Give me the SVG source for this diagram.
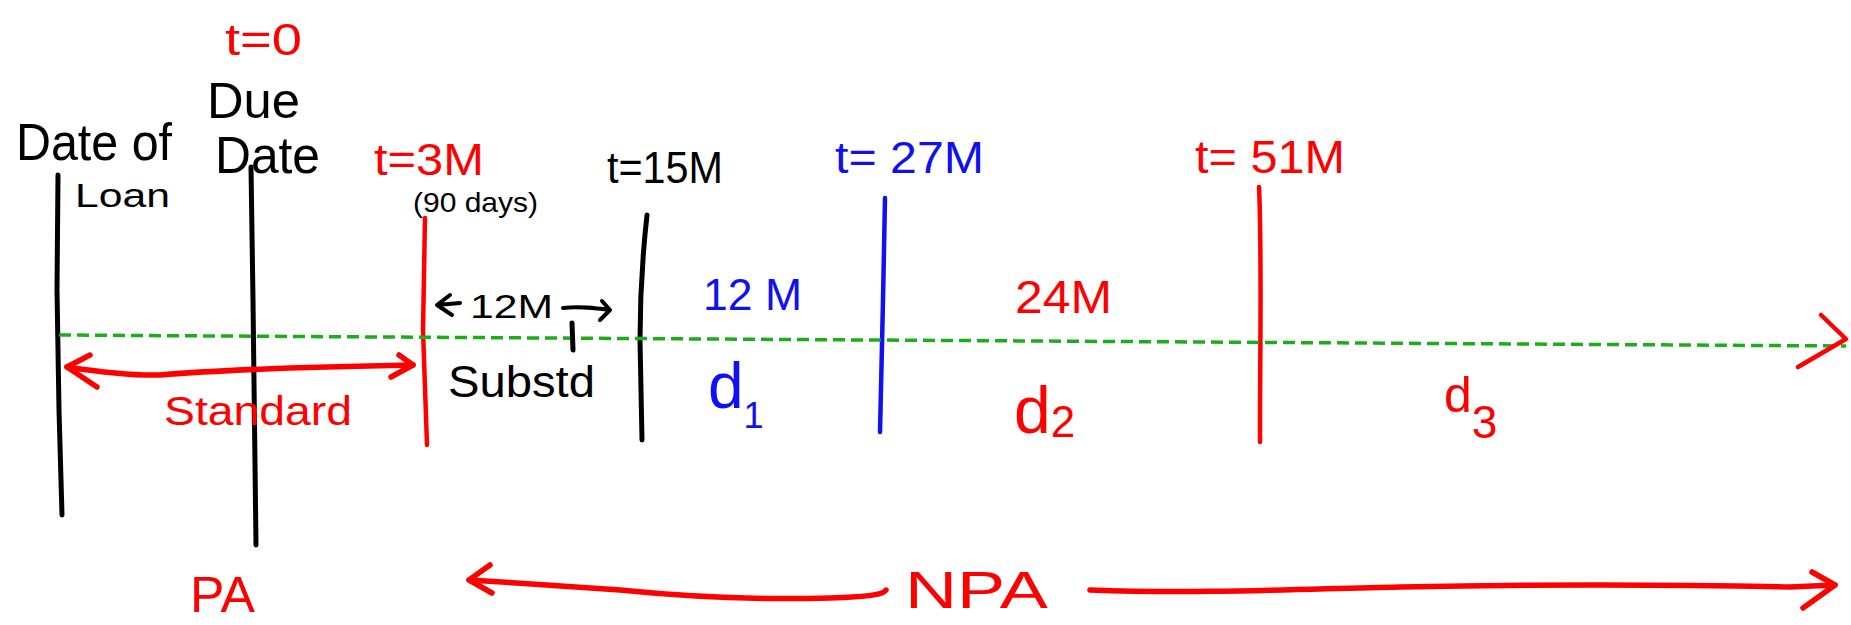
<svg xmlns="http://www.w3.org/2000/svg" width="1851" height="625" viewBox="0 0 1851 625">
<style>
text{font-family:"Liberation Sans","DejaVu Sans",sans-serif;}
.k{fill:#000}.r{fill:#ff0000}.b{fill:#1010f0}
.lk{fill:none;stroke:#000;stroke-width:5;stroke-linecap:round;stroke-linejoin:round}
.lr{fill:none;stroke:#ff0000;stroke-width:4.5;stroke-linecap:round;stroke-linejoin:round}
.lb{fill:none;stroke:#1010f0;stroke-width:4.5;stroke-linecap:round;stroke-linejoin:round}
.ar{fill:none;stroke:#ff0000;stroke-width:5.5;stroke-linecap:round;stroke-linejoin:round}
.dash{fill:none;stroke:#1aae1a;stroke-width:3.5;stroke-dasharray:12 6}
</style>
<rect width="1851" height="625" fill="#fff"/>

<g id="date-of-loan">
<text class="k" x="16" y="160" font-size="52" textLength="156" lengthAdjust="spacingAndGlyphs">Date of</text>
<text class="k" x="75" y="207" font-size="34" textLength="95" lengthAdjust="spacingAndGlyphs">Loan</text>
<path class="lk" d="M58,175 L57,290 L59,410 L62,515"/>
</g>

<g id="due-date">
<text class="r" x="225" y="55" font-size="44" textLength="77" lengthAdjust="spacingAndGlyphs">t=0</text>
<text class="k" x="207" y="118" font-size="50" textLength="93" lengthAdjust="spacingAndGlyphs">Due</text>
<text class="k" x="215" y="173" font-size="52" textLength="105" lengthAdjust="spacingAndGlyphs">Date</text>
<path class="lk" d="M251,167 L253,300 L256,545"/>
</g>

<g id="t3m">
<text class="r" x="374" y="175" font-size="44" textLength="110" lengthAdjust="spacingAndGlyphs">t=3M</text>
<text class="k" x="413" y="212" font-size="28" textLength="125" lengthAdjust="spacingAndGlyphs">(90 days)</text>
<path class="lr" d="M425,218 L423,330 L427,445"/>
</g>

<g id="t15m">
<text class="k" x="607" y="183" font-size="44" textLength="116" lengthAdjust="spacingAndGlyphs">t=15M</text>
<path class="lk" d="M647,215 C642,260 640,300 640,340 L642,440"/>
</g>

<g id="t27m">
<text class="b" x="835" y="173" font-size="44" textLength="149" lengthAdjust="spacingAndGlyphs">t= 27M</text>
<path class="lb" d="M885,198 L883,300 L880,432"/>
</g>

<g id="t51m">
<text class="r" x="1195" y="173" font-size="46" textLength="150" lengthAdjust="spacingAndGlyphs">t= 51M</text>
<path class="lr" d="M1259,187 C1262,250 1260,340 1260,442"/>
</g>

<g id="labels">
<text class="k" x="470" y="318" font-size="34" textLength="83" lengthAdjust="spacingAndGlyphs">12M</text>
<text class="b" x="703" y="310" font-size="44" textLength="99" lengthAdjust="spacingAndGlyphs">12 M</text>
<text class="r" x="1015" y="313" font-size="46" textLength="97" lengthAdjust="spacingAndGlyphs">24M</text>
<text class="k" x="448" y="397" font-size="44" textLength="147" lengthAdjust="spacingAndGlyphs">Substd</text>
<text class="r" x="164" y="425" font-size="40" textLength="188" lengthAdjust="spacingAndGlyphs">Standard</text>
<text class="b" x="708" y="408" font-size="64">d<tspan font-size="36" dy="20">1</tspan></text>
<text class="r" x="1014" y="433" font-size="66">d<tspan font-size="44" dy="4">2</tspan></text>
<text class="r" x="1444" y="412" font-size="50">d<tspan font-size="46" dy="26">3</tspan></text>
<text class="r" x="190" y="612" font-size="50" textLength="65" lengthAdjust="spacingAndGlyphs">PA</text>
<text class="r" x="905" y="608" font-size="52" textLength="143" lengthAdjust="spacingAndGlyphs">NPA</text>
</g>

<g id="connectors">
<path class="dash" d="M59,335 L1846,346"/>
<path class="lr" d="M1821,315 L1846,339 L1798,367"/>
<path class="ar" d="M67,367 C100,372 130,376 160,375 C220,370 300,367 413,365"/>
<path class="ar" d="M90,355 L67,367 L97,387"/>
<path class="ar" d="M399,355 L413,365 L391,377"/>
<path class="lk" style="stroke-width:4" d="M437,305 L460,303 M450,295 L437,305 L452,315"/>
<path class="lk" style="stroke-width:4" d="M563,308 C580,306 595,308 610,310 M602,301 L610,310 L600,320"/>
<path class="lk" d="M572,323 L573,350"/>
<path class="ar" d="M469,580 C520,583 560,586 620,590 C700,598 760,600 830,598 C870,597 884,594 886,590"/>
<path class="ar" d="M490,565 L469,580 L492,593"/>
<path class="ar" d="M1090,590 C1200,594 1300,589 1400,587 C1550,584 1700,585 1790,587 L1835,585"/>
<path class="ar" d="M1812,572 L1835,585 L1803,608"/>
</g>
</svg>
